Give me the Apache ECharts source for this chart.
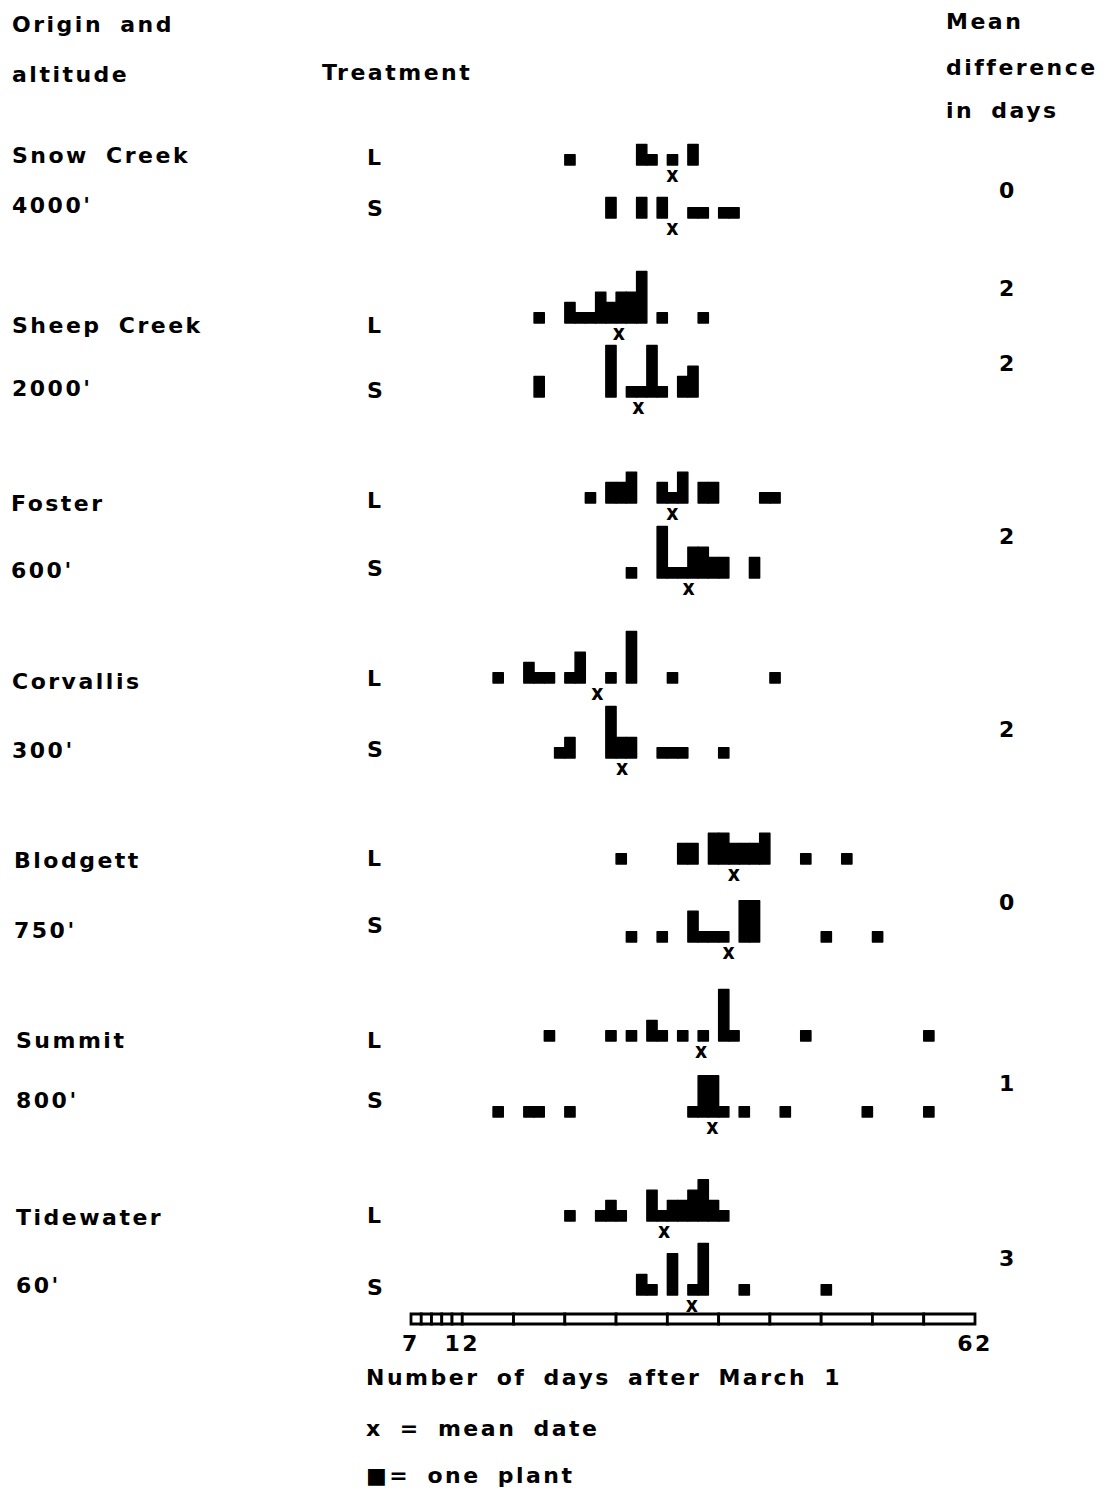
<!DOCTYPE html>
<html>
<head>
<meta charset="utf-8">
<script src="https://cdn.jsdelivr.net/npm/echarts@6/dist/echarts.min.js"></script>
<style>
  html, body { margin: 0; padding: 0; background: #fff; }
  #chart { width: 1106px; height: 1492px; letter-spacing: 2.5px; word-spacing: 7px; }
</style>
</head>
<body>
<div id="chart"></div>
<script>
// Sources, in top-to-bottom order
const origins = ['Snow Creek', 'Sheep Creek', 'Foster', 'Corvallis', 'Blodgett', 'Summit', 'Tidewater'];
const altitudes = ["4000'", "2000'", "600'", "300'", "750'", "800'", "60'"];
const treatments = ['L', 'S'];

// Flowering histograms: [days after March 1, number of plants]
const snowCreekL = [[22, 1], [29, 2], [30, 1], [32, 1], [34, 2]];
const snowCreekS = [[26, 2], [29, 2], [31, 2], [34, 1], [35, 1], [37, 1], [38, 1]];
const sheepCreekL = [[19, 1], [22, 2], [23, 1], [24, 1], [25, 3], [26, 2], [27, 3], [28, 3], [29, 5], [31, 1], [35, 1]];
const sheepCreekS = [[19, 2], [26, 5], [28, 1], [29, 1], [30, 5], [31, 1], [33, 2], [34, 3]];
const fosterL = [[24, 1], [26, 2], [27, 2], [28, 3], [31, 2], [32, 1], [33, 3], [35, 2], [36, 2], [41, 1], [42, 1]];
const fosterS = [[28, 1], [31, 5], [32, 1], [33, 1], [34, 3], [35, 3], [36, 2], [37, 2], [40, 2]];
const corvallisL = [[15, 1], [18, 2], [19, 1], [20, 1], [22, 1], [23, 3], [26, 1], [28, 5], [32, 1], [42, 1]];
const corvallisS = [[21, 1], [22, 2], [26, 5], [27, 2], [28, 2], [31, 1], [32, 1], [33, 1], [37, 1]];
const blodgettL = [[27, 1], [33, 2], [34, 2], [36, 3], [37, 3], [38, 2], [39, 2], [40, 2], [41, 3], [45, 1], [49, 1]];
const blodgettS = [[28, 1], [31, 1], [34, 3], [35, 1], [36, 1], [37, 1], [39, 4], [40, 4], [47, 1], [52, 1]];
const summitL = [[20, 1], [26, 1], [28, 1], [30, 2], [31, 1], [33, 1], [35, 1], [37, 5], [38, 1], [45, 1], [57, 1]];
const summitS = [[15, 1], [18, 1], [19, 1], [22, 1], [34, 1], [35, 4], [36, 4], [37, 1], [39, 1], [43, 1], [51, 1], [57, 1]];
const tidewaterL = [[22, 1], [25, 1], [26, 2], [27, 1], [30, 3], [31, 1], [32, 2], [33, 2], [34, 3], [35, 4], [36, 2], [37, 1]];
const tidewaterS = [[29, 2], [30, 1], [32, 4], [34, 1], [35, 5], [39, 1], [47, 1]];

// Mean flowering date of each histogram (days after March 1)
const meanDates = [32.1, 32.1, 26.9, 28.8, 32.1, 33.7, 24.8, 27.2, 38.1, 37.6, 34.9, 36.0, 31.3, 34.0];

// Mean difference in days, as listed in the right-hand column
const meanDifferences = [0, 2, 2, 2, 2, 0, 1, 3];

// Day scale of the ruler
const rulerTicks = [7, 8, 9, 10, 11, 12, 17, 22, 27, 32, 37, 42, 47, 52, 57, 62];
const rulerLabels = [7, 12, 62];

const histograms = [snowCreekL, snowCreekS, sheepCreekL, sheepCreekS, fosterL, fosterS,
  corvallisL, corvallisS, blodgettL, blodgettS, summitL, summitS, tidewaterL, tidewaterS];

// ---- layout ----
const W = 1106;
const AX_LEFT = 411, AX_RIGHT = 975;
const UNIT = 10.3;                 // pixel height of one plant
const baselines = [165, 218, 323, 397, 503, 578, 683, 758, 864, 942, 1041, 1117, 1221, 1295];
const originY = [[155, 205], [325, 388], [503, 570], [681, 750], [860, 930], [1040, 1100], [1217, 1285]];
const originX = [12, 12, 11, 12, 14, 16, 16];
const treatmentY = [[157, 208], [325, 390], [500, 568], [678, 749], [858, 925], [1040, 1100], [1215, 1287]];
const diffY = [190, 288, 363, 536, 729, 902, 1083, 1258];

const FONT = 'bold 22px "DejaVu Sans"';
function txt(text, x, y, align) {
  return { type: 'text', x: x, y: y, silent: true,
    style: { text: text, font: FONT, fill: '#000', align: align || 'left', verticalAlign: 'middle' } };
}

const graphics = [
  txt('Origin and', 12, 24),
  txt('altitude', 12, 74),
  txt('Treatment', 322, 72),
  txt('Mean', 946, 21),
  txt('difference', 946, 67),
  txt('in days', 946, 110),
  txt('Number of days after March 1', 366, 1377),
  txt('x = mean date', 366, 1428),
  txt('\u25A0= one plant', 366, 1475)
];
origins.forEach((o, i) => {
  graphics.push(txt(o, originX[i], originY[i][0]));
  graphics.push(txt(altitudes[i], originX[i], originY[i][1]));
  graphics.push(txt(treatments[0], 367, treatmentY[i][0]));
  graphics.push(txt(treatments[1], 367, treatmentY[i][1]));
});
meanDifferences.forEach((d, i) => graphics.push(txt(String(d), 1008, diffY[i], 'center')));

const grids = [], xAxes = [], yAxes = [], series = [];
histograms.forEach((data, i) => {
  grids.push({ left: AX_LEFT, right: W - AX_RIGHT, top: baselines[i] - 6 * UNIT, height: 8 * UNIT });
  xAxes.push({ gridIndex: i, type: 'value', min: 7, max: 62, show: false });
  yAxes.push({ gridIndex: i, type: 'value', min: -2, max: 6, show: false });
  // one column per day, stacked plants
  series.push({
    type: 'custom', xAxisIndex: i, yAxisIndex: i, data: data, silent: true,
    renderItem: function (params, api) {
      const d = api.value(0), n = api.value(1);
      const p0 = api.coord([d, 0]);
      const p1 = api.coord([d + 1, n]);
      return { type: 'rect',
        shape: { x: p0[0], y: p1[1], width: p1[0] - p0[0], height: p0[1] - p1[1] },
        style: { fill: '#000', stroke: '#000', lineWidth: 1.4, lineJoin: 'round' } };
    }
  });
  // mean date marker under the histogram
  series.push({
    type: 'custom', xAxisIndex: i, yAxisIndex: i, data: [[meanDates[i]]], silent: true,
    renderItem: function (params, api) {
      const p = api.coord([api.value(0) + 0.5, 0]);
      return { type: 'text', x: p[0], y: p[1] + 10,
        style: { text: 'x', font: 'bold 21px "DejaVu Sans Condensed"', fill: '#000',
          align: 'center', verticalAlign: 'middle' } };
    }
  });
});

// ruler of days after March 1
const R = histograms.length;
grids.push({ left: AX_LEFT, right: W - AX_RIGHT, top: 1314, height: 10 });
xAxes.push({ gridIndex: R, type: 'value', min: 7, max: 62,
  axisLine: { show: false }, axisTick: { show: false }, splitLine: { show: false },
  axisLabel: { customValues: rulerLabels, margin: 8, color: '#000',
    fontSize: 22, fontWeight: 'bold', fontFamily: 'DejaVu Sans' } });
yAxes.push({ gridIndex: R, type: 'value', min: 0, max: 1, show: false });
series.push({
  type: 'custom', xAxisIndex: R, yAxisIndex: R, silent: true,
  data: rulerTicks.slice(0, -1).map((t, i) => [t, rulerTicks[i + 1]]),
  renderItem: function (params, api) {
    const a = api.coord([api.value(0), 1]);
    const b = api.coord([api.value(1), 0]);
    return { type: 'rect', shape: { x: a[0], y: a[1], width: b[0] - a[0], height: b[1] - a[1] },
      style: { fill: '#fff', stroke: '#000', lineWidth: 2.8 } };
  }
});

const chart = echarts.init(document.getElementById('chart'), null, { renderer: 'svg', width: 1106, height: 1492 });
chart.setOption({
  backgroundColor: '#fff',
  animation: false,
  grid: grids,
  xAxis: xAxes,
  yAxis: yAxes,
  series: series,
  graphic: { elements: graphics }
});
</script>
</body>
</html>
